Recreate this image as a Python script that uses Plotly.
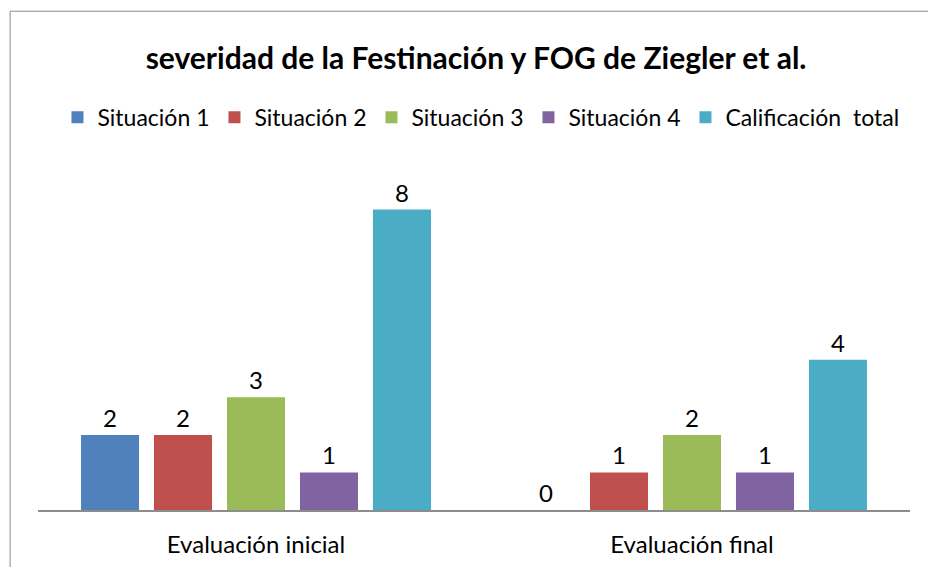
import plotly.graph_objects as go

# data
categories = ["Evaluación inicial", "Evaluación final"]
series_names = ["Situación 1", "Situación 2", "Situación 3", "Situación 4", "Calificación  total"]
series_values = [
    [2, 0],
    [2, 1],
    [3, 2],
    [1, 1],
    [8, 4],
]
series_colors = ["#4F81BD", "#C0504D", "#9BBB59", "#8064A2", "#4BACC6"]

fig = go.Figure()
for name, vals, col in zip(series_names, series_values, series_colors):
    fig.add_trace(go.Bar(
        x=categories,
        y=vals,
        name=name,
        marker=dict(color=col, line=dict(width=0)),
        text=[str(v) for v in vals],
        textposition="outside",
        textfont=dict(size=24, color="black", family="Lato"),
        cliponaxis=False,
    ))

# outer frame of the chart
fig.add_shape(
    type="rect", xref="paper", yref="paper",
    x0=-0.032, x1=1.03, y0=-0.3, y1=1.4756,
    line=dict(color="#8C8C8C", width=1), fillcolor="rgba(0,0,0,0)",
    layer="below",
)

fig.update_layout(
    width=928, height=567,
    paper_bgcolor="white", plot_bgcolor="white",
    font=dict(family="Lato", color="black"),
    title=dict(
        text="<b>severidad de la Festinación y FOG de Ziegler et al.</b>",
        x=0.513, xanchor="center", y=1 - 58 / 567, yanchor="middle",
        font=dict(size=30, family="Lato", color="black"),
    ),
    legend=dict(
        orientation="h", x=0.508, xanchor="center", y=1.1615, yanchor="middle",
        font=dict(size=23, family="Lato"), itemwidth=30, traceorder="normal",
    ),
    barmode="group", bargap=0.163, bargroupgap=0.205,
    margin=dict(l=38, r=18, t=172, b=57),
    xaxis=dict(
        showline=True, linecolor="#8C8C8C", linewidth=1.5,
        showgrid=False, ticks="", tickfont=dict(size=24, family="Lato"),
        ticklabelstandoff=12, automargin=False,
    ),
    yaxis=dict(range=[0, 9], visible=False, showgrid=False, zeroline=False),
    showlegend=True,
)

fig.write_html(
    "out.html",
    config={"displayModeBar": False},
    post_script="document.body.style.margin='0';document.body.style.overflow='hidden';",
)
